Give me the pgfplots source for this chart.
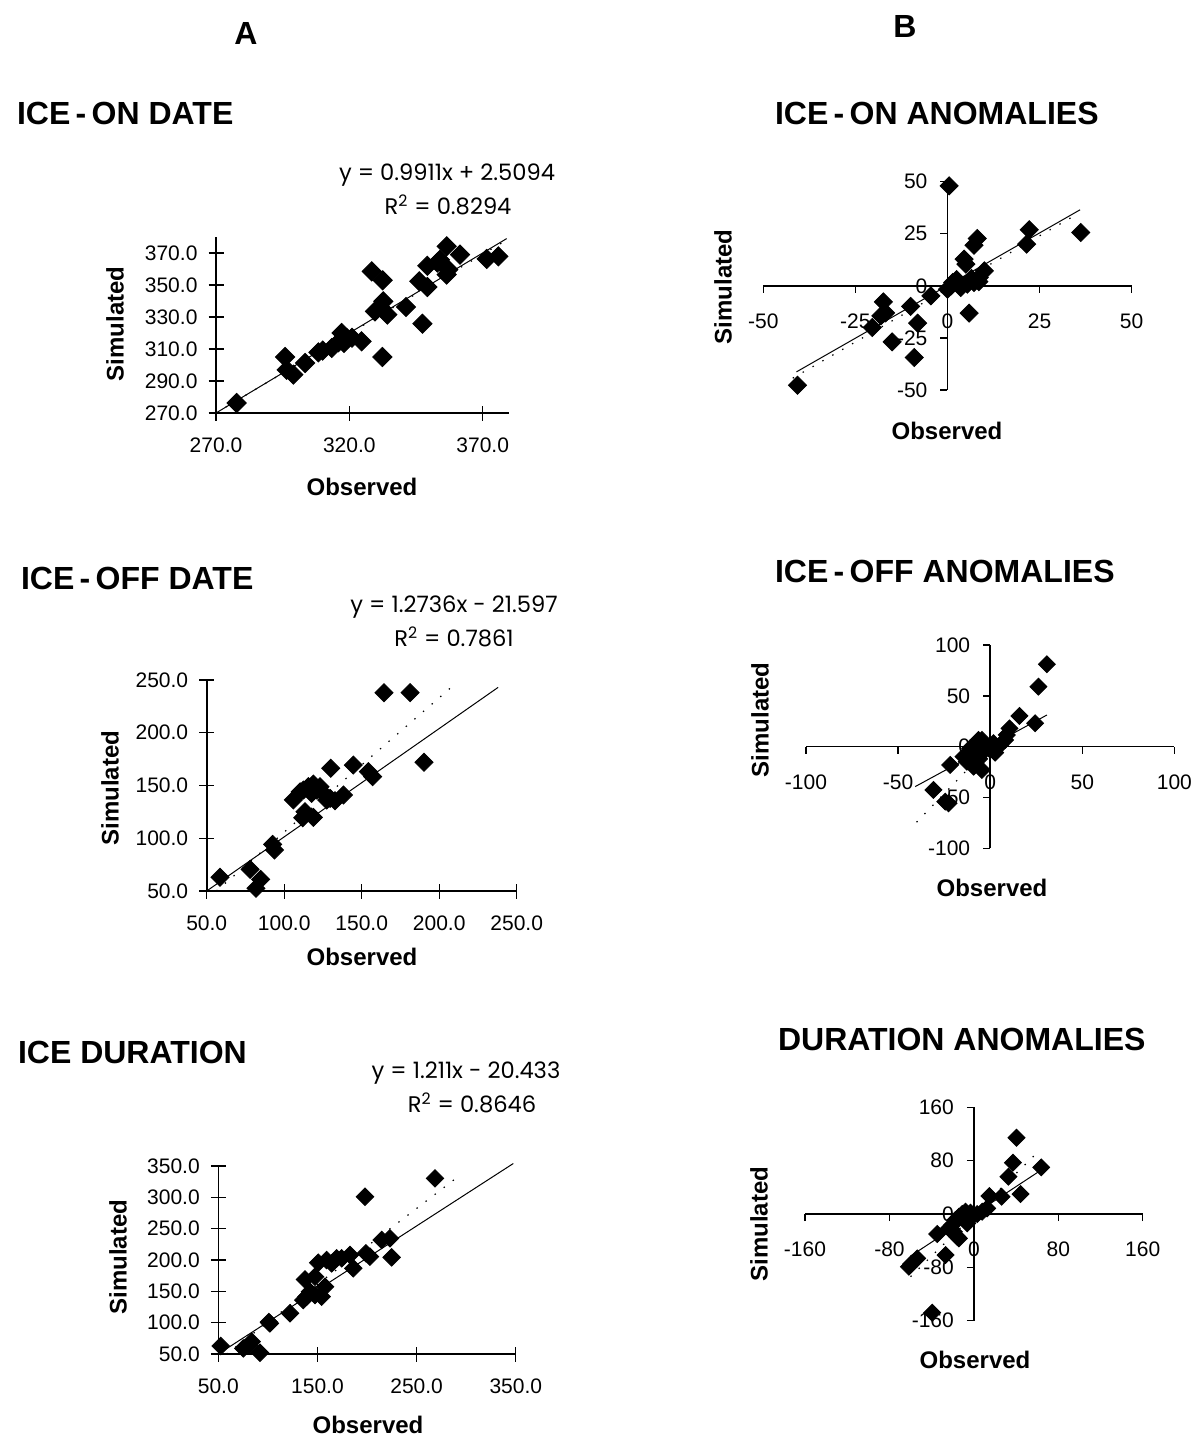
\documentclass[border=0pt]{standalone}
\usepackage{pgfplots}
\pgfplotsset{compat=1.18}
\usepackage{fontspec}
\setmainfont{Liberation Sans}
\newfontfamily\eqfont{Poppins}
\newcommand{\ttl}{\fontsize{16pt}{19pt}\selectfont\bfseries}
\newcommand{\lab}{\fontsize{12pt}{14pt}\selectfont\bfseries}
\newcommand{\eqf}{\eqfont\fontsize{11.3pt}{13pt}\selectfont}
\pgfplotsset{
  common/.style={
    scale only axis, clip=false,
    /pgf/number format/assume math mode=true,
    ticklabel style={font=\fontsize{10.5pt}{12pt}\selectfont},
    tick style={black, line width=0.7pt},
    every axis plot/.append style={black},
  },
  noarrows/.style={
    axis line style={-, line width=0.8pt, black},
    every outer x axis line/.append style={-},
    every outer y axis line/.append style={-},
    every inner x axis line/.append style={-},
    every inner y axis line/.append style={-},
  },
  Abox/.style={common,
    axis lines=left, noarrows, tick align=center, major tick length=7.5pt,
    /pgf/number format/.cd, fixed, fixed zerofill, precision=1, 1000 sep={}, /pgfplots/.cd,
    xticklabel style={yshift=-5pt},
    yticklabel style={xshift=-2pt},
  },
  Bmid/.style={common,
    axis lines=middle, noarrows, tick align=outside, major tick length=3.5pt,
    hide obscured x ticks=false, hide obscured y ticks=false,
    xticklabel style={yshift=-7pt},
    yticklabel style={xshift=-3pt},
  },
  pts/.style={only marks, mark=square*, mark size=3.2pt, mark options={rotate=45, fill=black, draw=black}},
  solidl/.style={no marks, line width=0.5pt, solid},
  dotl/.style={no marks, line width=0.6pt, dash pattern=on 0.7pt off 5pt},
}
\begin{document}
\begin{tikzpicture}
\path[use as bounding box] (0,0) rectangle (597pt,-719pt);

% ---- titles ----
\node[font=\ttl] at (246*0.5pt,-33*0.5pt) {A};
\node[font=\ttl] at (905*0.5pt,-26*0.5pt) {B};
\node[font=\ttl, anchor=west] at (10*0.5pt,-113*0.5pt) {ICE\,-\,ON DATE};
\node[font=\ttl, anchor=west] at (768*0.5pt,-113*0.5pt) {ICE\,-\,ON ANOMALIES};
\node[font=\ttl, anchor=west] at (14*0.5pt,-578*0.5pt) {ICE\,-\,OFF DATE};
\node[font=\ttl, anchor=west] at (768*0.5pt,-571*0.5pt) {ICE\,-\,OFF ANOMALIES};
\node[font=\ttl, anchor=west] at (11*0.5pt,-1052*0.5pt) {ICE DURATION};
\node[font=\ttl, anchor=west] at (771*0.5pt,-1039*0.5pt) {DURATION ANOMALIES};

% ---- equations ----
\node[font=\eqf] at (447*0.5pt,-175*0.5pt) {y = 0.9911x + 2.5094};
\node[font=\eqf] at (448*0.5pt,-205*0.5pt) {R\textsuperscript{2} = 0.8294};
\node[font=\eqf] at (454*0.5pt,-607*0.5pt) {y = 1.2736x - 21.597};
\node[font=\eqf] at (454*0.5pt,-637*0.5pt) {R\textsuperscript{2} = 0.7861};
\node[font=\eqf] at (466*0.5pt,-1073*0.5pt) {y = 1.211x - 20.433};
\node[font=\eqf] at (472*0.5pt,-1103*0.5pt) {R\textsuperscript{2} = 0.8646};

% ---- axis labels ----
\node[font=\lab, rotate=90] at (115*0.5pt,-324*0.5pt) {Simulated};
\node[font=\lab] at (362*0.5pt,-487*0.5pt) {Observed};
\node[font=\lab, rotate=90] at (110*0.5pt,-788*0.5pt) {Simulated};
\node[font=\lab] at (362*0.5pt,-957*0.5pt) {Observed};
\node[font=\lab, rotate=90] at (118*0.5pt,-1257*0.5pt) {Simulated};
\node[font=\lab] at (368*0.5pt,-1425*0.5pt) {Observed};
\node[font=\lab, rotate=90] at (723*0.5pt,-287*0.5pt) {Simulated};
\node[font=\lab] at (947*0.5pt,-431*0.5pt) {Observed};
\node[font=\lab, rotate=90] at (760*0.5pt,-720*0.5pt) {Simulated};
\node[font=\lab] at (992*0.5pt,-888*0.5pt) {Observed};
\node[font=\lab, rotate=90] at (759*0.5pt,-1224*0.5pt) {Simulated};
\node[font=\lab] at (975*0.5pt,-1360*0.5pt) {Observed};

% ================= A1 ICE-ON DATE =================
\begin{axis}[Abox, at={(108pt,-206.5pt)}, anchor=south west,
  width=146.67pt, height=88pt,
  xmin=270, xmax=380, ymin=270, ymax=380,
  xtick={270,320,370}, ytick={270,290,310,330,350,370}]
\addplot[dotl] coordinates {(270,270.1) (379,378.1)};
\addplot[solidl] coordinates {(270,270) (379,379)};
\addplot[pts, mark size=3.4pt] coordinates {
(277.75,276.25) (295.9,305) (296.5,297) (299,294) (303.4,301.25) (308.4,307.9)
(313.4,310.6) (315.9,314.2) (317.1,320) (319,316.9) (318,313.75) (324.6,314.8)
(328.4,358.5) (332.5,352.9) (332.75,339.8) (329.6,333.5) (332,335.6) (334.25,331.5)
(332.4,305) (341.25,336.25) (346.25,352.3) (347.4,325.8) (349.25,348.75) (349.25,362)
(354,365.8) (356.5,374.2) (356.5,356.5) (357.1,359.6) (361.5,369) (371.5,366.25)
(375.9,367.9) (353,364) (321,317) (310,309)};
\end{axis}

% ================= A2 ICE-OFF DATE =================
\begin{axis}[Abox, at={(103.35pt,-445.5pt)}, anchor=south west,
  width=155pt, height=105.5pt,
  xmin=50, xmax=250, ymin=50, ymax=250,
  xtick={50,100,150,200,250}, ytick={50,100,150,200,250}]
\addplot[dotl] coordinates {(56.2,50) (210,245.9)};
\addplot[solidl] coordinates {(50,50) (238,243)};
\addplot[pts] coordinates {
(58.6,63) (78,70.5) (84.8,61) (81.8,52.5) (92.6,94.2) (93.7,88.9)
(105.9,136.3) (112,119.5) (118.8,119.8) (113.4,125.2) (112.4,145.7) (115.6,148.9)
(118.8,151.4) (117.7,142.6) (123.1,148.9) (125.3,142.6) (127.4,136.3) (130,166.3)
(132.8,135.6) (138.2,141) (144.6,169.4) (154.3,163.1) (157.1,158.4) (164.4,238)
(181.2,238) (190.2,172) (121,145.7) (129.6,137.8) (110.3,144)};
\end{axis}

% ================= A3 ICE DURATION =================
\begin{axis}[Abox, at={(109.15pt,-677pt)}, anchor=south west,
  width=148.75pt, height=94pt,
  xmin=50, xmax=350, ymin=50, ymax=350,
  xtick={50,150,250,350}, ytick={50,100,150,200,250,300,350}]
\addplot[dotl] coordinates {(58.2,50) (290,330.8)};
\addplot[solidl] coordinates {(50,50) (347.5,354)};
\addplot[pts, mark size=3.1pt] coordinates {
(52.4,62.8) (75.2,59) (81.3,64.4) (83.6,69.7) (92,52) (102,99) (101,101)
(122.3,115) (135.7,136) (137.4,169) (142.4,149.5) (147.5,173.4) (147.5,144)
(154.2,141.5) (157.6,157.4) (150.8,195.7) (159.2,200) (164.3,194.7) (169.3,202.7)
(174.4,202.7) (182.8,208) (186.1,186.7) (198.9,210.6) (202.9,205.3) (197.9,301)
(214.7,232) (223.1,234.6) (224.8,204.3) (268.5,330.3) (139,141.5)};
\end{axis}

% ================= B1 ICE-ON ANOMALIES =================
\begin{axis}[Bmid, at={(381.65pt,-195pt)}, anchor=south west,
  width=184.17pt, height=104.17pt,
  xmin=-50, xmax=50, ymin=-50, ymax=50,
  xtick={-50,-25,0,25,50}, ytick={-50,-25,0,25,50}]
\addplot[dotl] coordinates {(-42,-44.3) (35,34.2)};
\addplot[solidl] coordinates {(-41,-41.3) (36,36.5)};
\addplot[pts] coordinates {
(0.45,48) (-40.7,-47.7) (-17.4,-7.7) (-18.1,-14.4) (-16.8,-13) (-20.4,-20)
(-15,-26.9) (-10,-9.9) (-8.1,-17.9) (-9,-34.4) (-4.5,-4.8) (0,-1.6) (1.4,1.6)
(2.5,3) (4.5,12.8) (5,10.4) (3.6,-0.8) (5.4,0.8) (7.2,1.6) (8.5,2) (5.9,-13.1)
(7.2,19.5) (8.1,22.7) (10,7.2) (8.6,4) (21.5,20) (22.2,26.9) (36.2,25.6) (1,0) (6.5,3.5)};
\end{axis}

% ================= B2 ICE-OFF ANOMALIES =================
\begin{axis}[Bmid, at={(403pt,-424.15pt)}, anchor=south west,
  width=184.17pt, height=101.67pt,
  xmin=-100, xmax=100, ymin=-100, ymax=100,
  xtick={-100,-50,0,50,100}, ytick={-100,-50,0,50,100}]
\addplot[dotl] coordinates {(-40,-74.3) (20,37.9)};
\addplot[solidl] coordinates {(-40.7,-39.3) (30.8,31.1)};
\addplot[pts, mark size=3pt] coordinates {
(30.8,81) (26.2,59) (24.4,23) (15.9,30.2) (10.5,18) (9,11.5) (8.1,6.6) (5.4,1.6)
(2.7,-5.9) (1.8,3.3) (-1.8,0) (-4.5,6.6) (-6.3,6.6) (-7.2,0) (-3.6,-4.9) (-10,-8.2)
(-9,-19.7) (-4.5,-23) (-14.5,-9.8) (-12.7,-14.8) (-21.7,-18) (-30.8,-42.6)
(-24.4,-54.1) (-22.6,-55.7) (-10.9,-1.6) (-8.1,-16.4) (-6,-12) (0,-3)};
\end{axis}

% ================= B3 DURATION ANOMALIES =================
\begin{axis}[Bmid, at={(402.5pt,-660.35pt)}, anchor=south west,
  width=168.85pt, height=106.67pt,
  xmin=-160, xmax=160, ymin=-160, ymax=160,
  xtick={-160,-80,0,80,160}, ytick={-160,-80,0,80,160}]
\addplot[dotl] coordinates {(-60,-94) (61,93.5)};
\addplot[solidl] coordinates {(-60,-63) (63.8,66)};
\addplot[pts, mark size=3pt] coordinates {
(40.4,114.5) (37,77) (32.8,56) (63.8,70) (44.2,30) (26.2,26) (14.8,27) (12.6,8.5)
(7.9,3.5) (3.2,0) (-3.2,2) (-7.9,3.5) (-11,0) (-14.2,-4) (-17.4,-9) (-20.5,-16.5)
(-23.7,-21.5) (-15.8,-34) (-19,-26.5) (-14.2,-36.5) (-34.7,-30) (-26.8,-61.5)
(-53.7,-66.5) (-59.4,-75) (-61.6,-79) (-39.5,-148) (-6.3,-14) (-1.6,-4)};
\end{axis}
\end{tikzpicture}
\end{document}
